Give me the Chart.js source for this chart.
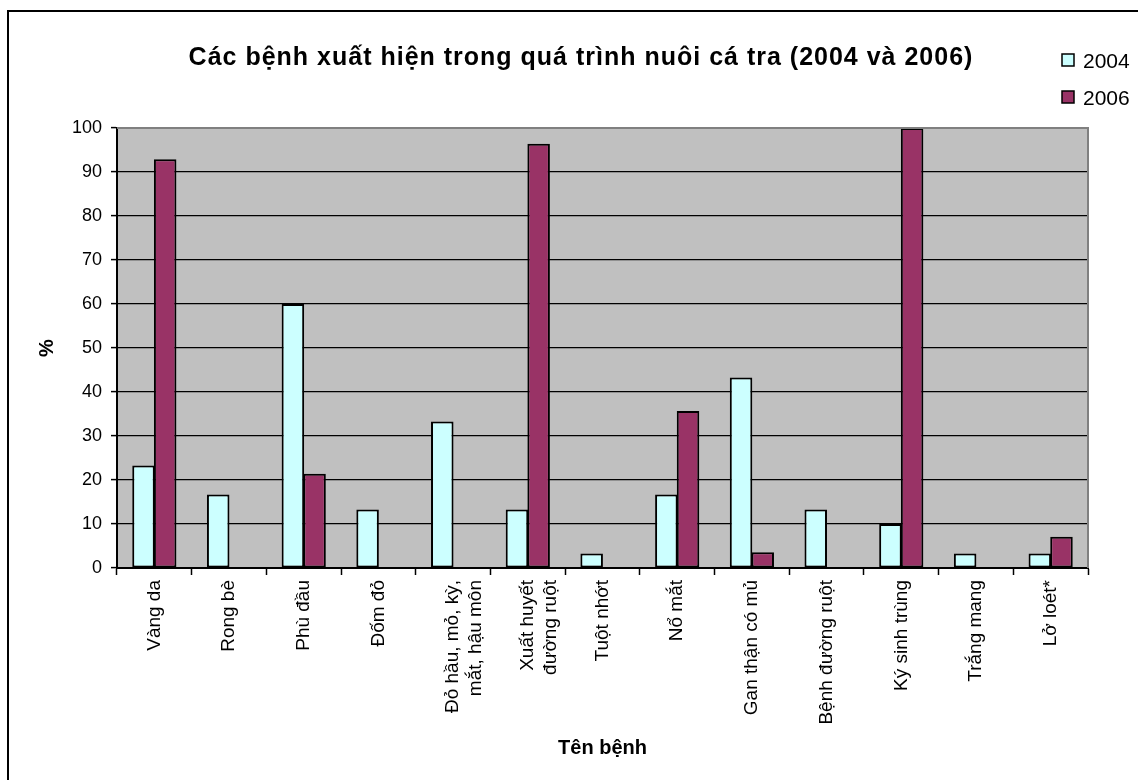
<!DOCTYPE html>
<html>
<head>
<meta charset="utf-8">
<script src="https://cdn.jsdelivr.net/npm/chart.js@4"></script>
<style>
  html, body { margin: 0; padding: 0; background: #fff; }
  #wrap { position: relative; width: 1138px; height: 780px; overflow: hidden; }
  #frame { position: absolute; left: 7px; top: 10px; width: 1200px; height: 900px;
           border-left: 2px solid #000; border-top: 2px solid #000; box-sizing: border-box; }
  canvas { position: absolute; left: 0; top: 0; }
</style>
</head>
<body>
<div id="wrap">
  <div id="frame"></div>
  <canvas id="diseaseChart" width="1138" height="780"></canvas>
</div>
<script>
// benh xuat hien khi nuoi ca tra, % so ho
const chartTitle = 'Các bệnh xuất hiện trong quá trình nuôi cá tra (2004 và 2006)';
const diseases = [
  'Vàng da',
  'Rong bè',
  'Phù đầu',
  'Đốm đỏ',
  ['Đỏ hầu, mỏ, kỳ,', 'mắt, hậu môn'],
  ['Xuất huyết', 'đường ruột'],
  'Tuột nhớt',
  'Nổ mắt',
  'Gan thận có mủ',
  'Bệnh đường ruột',
  'Ký sinh trùng',
  'Trắng mang',
  'Lở loét*'
];
const years = ['2004', '2006'];
const pct2004 = [23.3, 16.7, 60.0, 13.3, 33.3, 13.3, 3.3, 16.7, 43.3, 13.3, 10.0, 3.3, 3.3];
const pct2006 = [92.9, null, 21.4, null, null, 96.4, null, 35.7, 3.6, null, 100, null, 7.1];
const yTicks = [0, 10, 20, 30, 40, 50, 60, 70, 80, 90, 100];

const FONT = "'Liberation Sans', Arial, sans-serif";

// nen xam + khung cho vung ve, tieu de va chu giai ve tay
const excelLook = {
  id: 'excelLook',
  beforeDraw(chart) {
    const { ctx, chartArea: a } = chart;
    ctx.save();
    ctx.fillStyle = '#C0C0C0';
    ctx.fillRect(a.left, a.top, a.right - a.left, a.bottom - a.top);
    ctx.restore();
  },
  afterDraw(chart) {
    const { ctx, chartArea: a } = chart;
    ctx.save();
    // khung xam phia tren va ben phai
    ctx.strokeStyle = '#808080';
    ctx.lineWidth = 2;
    ctx.beginPath();
    ctx.moveTo(a.left, a.top);
    ctx.lineTo(a.right, a.top);
    ctx.lineTo(a.right, a.bottom);
    ctx.stroke();

    ctx.fillStyle = '#000';
    ctx.font = 'bold 25px ' + FONT;
    ctx.letterSpacing = '1px';
    ctx.textAlign = 'center';
    ctx.textBaseline = 'middle';
    ctx.fillText(chartTitle, 581, 58);
    ctx.letterSpacing = '0px';

    // chu giai
    ctx.font = '21px ' + FONT;
    ctx.textAlign = 'left';
    chart.data.datasets.forEach((ds, i) => {
      const y = 60 + i * 37;
      ctx.fillStyle = ds.backgroundColor;
      ctx.fillRect(1062, y - 6, 12, 12);
      ctx.strokeStyle = '#000';
      ctx.lineWidth = 1.5;
      ctx.strokeRect(1062, y - 6, 12, 12);
      ctx.fillStyle = '#000';
      ctx.fillText(ds.label, 1083, y + 2);
    });
    ctx.restore();
  }
};

new Chart(document.getElementById('diseaseChart'), {
  type: 'bar',
  data: {
    labels: diseases,
    datasets: [
      {
        label: years[0],
        data: pct2004,
        backgroundColor: '#CCFFFF',
        borderColor: '#000',
        borderWidth: 2,
        borderSkipped: false
      },
      {
        label: years[1],
        data: pct2006,
        backgroundColor: '#993366',
        borderColor: '#000',
        borderWidth: 2,
        borderSkipped: false
      }
    ]
  },
  options: {
    responsive: false,
    animation: false,
    devicePixelRatio: 1,
    categoryPercentage: 0.58,
    barPercentage: 1.04,
    layout: { padding: { left: 7, top: 128, right: 50, bottom: 0 } },
    plugins: {
      legend: { display: false },
      title: { display: false },
      tooltip: { enabled: false }
    },
    scales: {
      x: {
        afterFit(scale) { scale.height = 212; },
        grid: {
          offset: true,
          drawOnChartArea: false,
          drawTicks: true,
          tickLength: 7,
          tickColor: '#000',
          tickWidth: 1.5
        },
        border: { color: '#000', width: 2 },
        ticks: {
          color: '#000',
          font: { family: FONT, size: 19 },
          minRotation: 90,
          maxRotation: 90,
          autoSkip: false,
          padding: 5
        },
        title: {
          display: true,
          text: 'Tên bệnh',
          color: '#000',
          font: { family: FONT, size: 20, weight: 'bold' },
          padding: { top: 20, bottom: 20 }
        }
      },
      y: {
        min: 0,
        max: 100,
        afterFit(scale) { scale.width = 110; },
        afterBuildTicks(scale) { scale.ticks = yTicks.map(v => ({ value: v })); },
        grid: {
          color: ctx => (ctx.tick && ctx.tick.value === 100 ? 'rgba(0,0,0,0)' : '#000'),
          lineWidth: 1.2,
          tickColor: '#000',
          tickLength: 6,
          tickWidth: 1.5
        },
        border: { color: '#000', width: 2 },
        ticks: {
          color: '#000',
          font: { family: FONT, size: 18 },
          padding: 9
        },
        title: {
          display: true,
          text: '%',
          color: '#000',
          font: { family: FONT, size: 20, weight: 'bold' },
          padding: { top: 28, bottom: 0 }
        }
      }
    }
  },
  plugins: [excelLook]
});
</script>
</body>
</html>
